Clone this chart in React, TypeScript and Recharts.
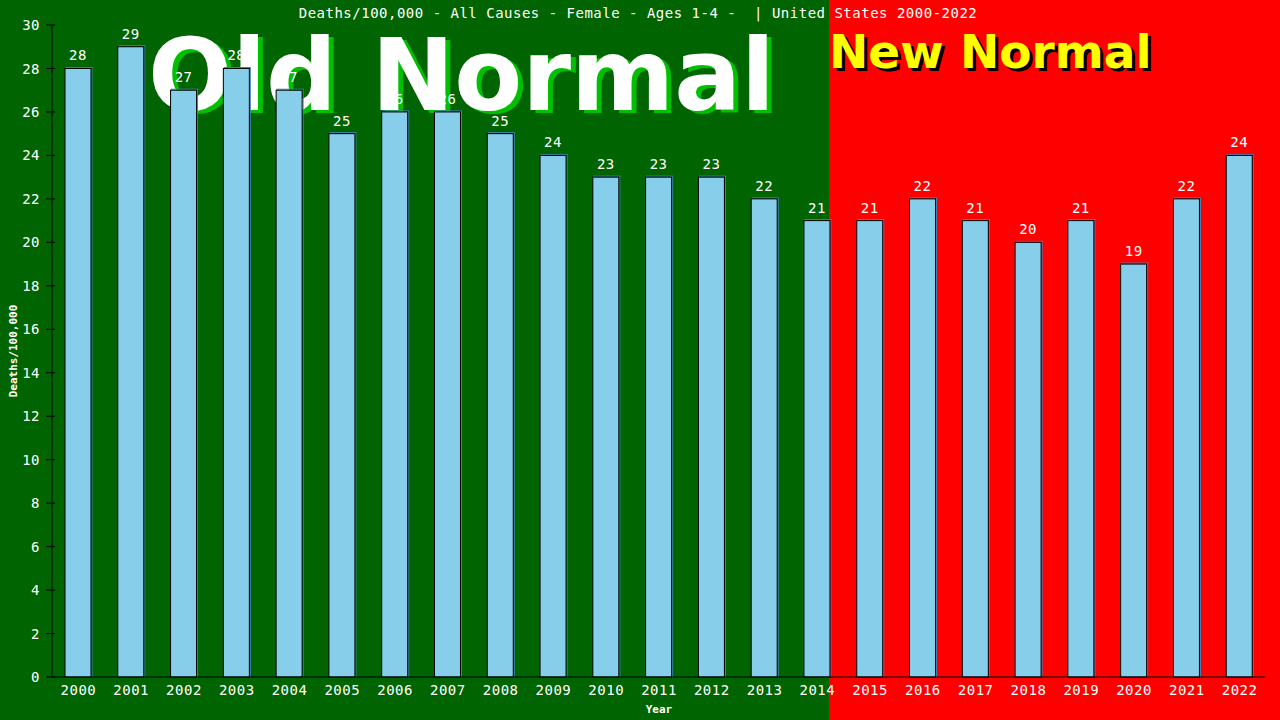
import { BarChart, Bar, XAxis, YAxis, LabelList } from 'recharts';

const years = ['2000', '2001', '2002', '2003', '2004', '2005', '2006', '2007', '2008', '2009', '2010', '2011', '2012', '2013', '2014', '2015', '2016', '2017', '2018', '2019', '2020', '2021', '2022'];
const deaths = [28, 29, 27, 28, 27, 25, 26, 26, 25, 24, 23, 23, 23, 22, 21, 21, 22, 21, 20, 21, 19, 22, 24];
const yTicks = [0, 2, 4, 6, 8, 10, 12, 14, 16, 18, 20, 22, 24, 26, 28, 30];

const title = 'Deaths/100,000 - All Causes - Female - Ages 1-4 -  | United States 2000-2022';

const data = years.map((year, i) => ({ year, value: deaths[i] }));

const MONO = '"DejaVu Sans Mono", monospace';

const BarShape = (props: any) => {
  const { x, y, width, height } = props;
  return (
    <g>
      <rect x={x + 1} y={y - 1} width={width} height={height + 1} fill="none" stroke="#4682B4" />
      <rect x={x} y={y} width={width} height={height} fill="#87CEEB" stroke="#000" />
    </g>
  );
};

const YTick = (props: any) => {
  const { x, y, payload } = props;
  return (
    <g>
      <line x1={x + 12} x2={x + 15} y1={y} y2={y} stroke="#000" />
      <text x={x} y={y} dy="0.36em" textAnchor="end" fill="#fff" fontFamily={MONO} fontSize={14} letterSpacing={0.5}>
        {payload.value}
      </text>
    </g>
  );
};

const YLabel = (props: any) => {
  const { viewBox } = props;
  const cx = 13;
  const cy = viewBox.y + viewBox.height / 2;
  return (
    <text x={cx} y={cy} dy="0.36em" textAnchor="middle" fill="#fff" fontFamily={MONO} fontWeight="bold" fontSize={11} transform={`rotate(-90 ${cx} ${cy})`}>
      Deaths/100,000
    </text>
  );
};

export default function App() {
  return (
    <div style={{ position: 'fixed', left: 0, top: 0, width: 1280, height: 720, overflow: 'hidden' }}>
      <svg width={1280} height={720} style={{ position: 'absolute', left: 0, top: 0 }}>
        <rect x={0} y={0} width={1280} height={720} fill="#006400" />
        <rect x={829} y={0} width={451} height={720} fill="#FF0000" />
        <text x={153} y={113} fill="#00C000" fontFamily='"DejaVu Sans", sans-serif' fontWeight="bold" fontSize={99}>Old Normal</text>
        <text x={148} y={110} fill="#fff" fontFamily='"DejaVu Sans", sans-serif' fontWeight="bold" fontSize={99}>Old Normal</text>
        <text x={832} y={71} fill="#000" fontFamily='"DejaVu Sans", sans-serif' fontWeight="bold" fontSize={47}>New Normal</text>
        <text x={829} y={68} fill="#FFFF00" fontFamily='"DejaVu Sans", sans-serif' fontWeight="bold" fontSize={47}>New Normal</text>
        <text x={638} y={18} textAnchor="middle" fill="#fff" fontFamily={MONO} fontSize={14} letterSpacing={0.5} style={{ whiteSpace: 'pre' }}>
          {title}
        </text>
      </svg>
      <div style={{ position: 'absolute', left: 0, top: 0 }}>
        <BarChart width={1280} height={720} data={data} margin={{ top: 25, right: 14, bottom: 13, left: 12 }} barSize={26}>
          <XAxis
            dataKey="year"
            height={30}
            axisLine={{ stroke: '#000' }}
            tickLine={false}
            tickSize={6}
            tick={{ fill: '#fff', fontFamily: MONO, fontSize: 14, letterSpacing: 0.5 }}
            interval={0}
            label={{ value: 'Year', position: 'bottom', offset: -2, fill: '#fff', fontFamily: MONO, fontWeight: 'bold', fontSize: 11 }}
          />
          <YAxis
            width={40}
            domain={[0, 30]}
            ticks={yTicks}
            interval={0}
            axisLine={{ stroke: '#000' }}
            tickLine={{ stroke: '#000' }}
            tickSize={6}
            tickMargin={6}
            tick={<YTick />}
            label={<YLabel />}
          />
          <YAxis yAxisId="right" orientation="right" width={0} domain={[0, 30]} tick={false} tickLine={false} axisLine={{ stroke: '#000' }} />
          <Bar dataKey="value" shape={<BarShape />} isAnimationActive={false}>
            <LabelList dataKey="value" position="top" offset={8} fill="#fff" fontFamily={MONO} fontSize={14} letterSpacing={0.5} />
          </Bar>
        </BarChart>
      </div>
    </div>
  );
}
